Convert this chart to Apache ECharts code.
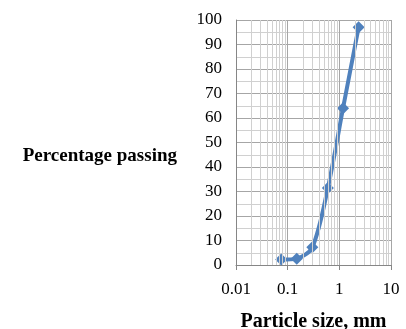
<!DOCTYPE html>
<html><head><meta charset="utf-8">
<script src="https://cdn.jsdelivr.net/npm/echarts@6/dist/echarts.min.js"></script>
<style>html,body{margin:0;padding:0;background:#fff}#c{width:406px;height:329px}</style>
</head><body><div id="c"></div>
<script>
const sizes = [0.075, 0.15, 0.3, 0.6, 1.18, 2.36];
const passing = [2.2, 2.6, 7.2, 31.4, 64, 97];
const xTicks = [0.01, 0.1, 1, 10];
const minorX = [];
[0.01, 0.1, 1].forEach(d => { for (let k = 2; k <= 9; k++) minorX.push(+(d * k).toPrecision(3)); });

const font = 'Liberation Serif, Times New Roman, serif';
const chart = echarts.init(document.getElementById('c'));
chart.setOption({
  animation: false,
  grid: {left: 236, right: 15, top: 20, bottom: 64, containLabel: false, outerBoundsMode: 'none'},
  xAxis: {
    type: 'log', logBase: 10, min: 0.01, max: 10,
    name: 'Particle size, mm', nameLocation: 'middle', nameGap: 47,
    nameTextStyle: {fontFamily: font, fontWeight: 'bold', fontSize: 20, color: '#000'},
    axisLine: {show: true, lineStyle: {color: '#868686'}},
    axisTick: {show: true, inside: false, length: 5, lineStyle: {color: '#868686'}},
    axisLabel: {fontFamily: font, fontSize: 17, color: '#000', margin: 16,
      formatter: v => String(+v)},
    splitLine: {show: true, lineStyle: {color: '#a6a6a6', width: 1}}
  },
  yAxis: {
    type: 'value', min: 0, max: 100, interval: 10,
    name: 'Percentage passing', nameLocation: 'middle', nameRotate: 0, nameGap: 59,
    nameTextStyle: {fontFamily: font, fontWeight: 'bold', fontSize: 19, color: '#000', align: 'right', verticalAlign: 'top', lineHeight: 28},
    axisLine: {show: true, lineStyle: {color: '#868686'}},
    axisTick: {show: false},
    axisLabel: {fontFamily: font, fontSize: 17, color: '#000', margin: 14},
    splitLine: {show: true, lineStyle: {color: '#a6a6a6', width: 1}},
    minorTick: {show: false, splitNumber: 2},
    minorSplitLine: {show: true, lineStyle: {color: '#d0d0d0', width: 1}}
  },
  series: [
    {
      type: 'line', data: [], silent: true,
      markLine: {
        silent: true, symbol: 'none', label: {show: false},
        lineStyle: {color: '#d0d0d0', width: 1, type: 'solid'},
        data: minorX.map(v => ({xAxis: v}))
      }
    },
    {
      type: 'line', data: sizes.map((s, i) => [s, passing[i]]),
      smooth: 0.3, symbol: 'diamond', symbolSize: 12,
      lineStyle: {color: '#4F81BD', width: 4},
      itemStyle: {color: '#4F81BD'}
    }
  ]
});
</script></body></html>
